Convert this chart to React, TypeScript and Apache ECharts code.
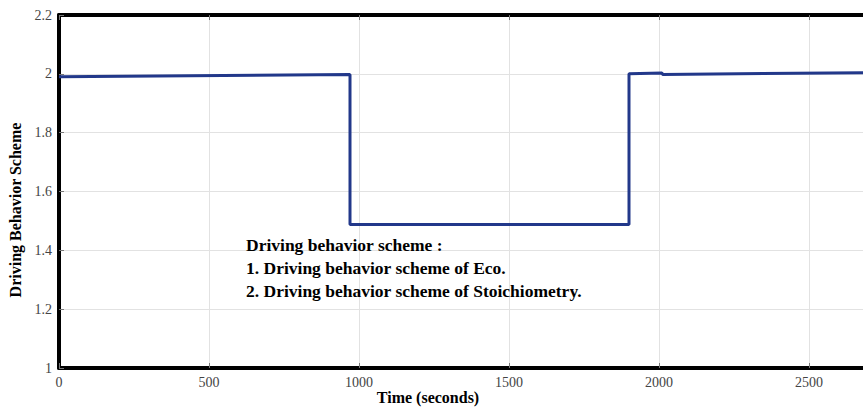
import React, { useEffect, useRef } from "react";
import * as echarts from "echarts";

const timeValues = [0, 970, 970, 1900, 1900, 2010, 2012, 2700];
const schemeValues = [1.99, 1.998, 1.488, 1.488, 2.0, 2.003, 1.998, 2.004];
const yTicks = [1, 1.2, 1.4, 1.6, 1.8, 2, 2.2];
const xAxisTitle = "Time (seconds)";
const yAxisTitle = "Driving Behavior Scheme";
const noteLines = [
  "Driving behavior scheme :",
  "1. Driving behavior scheme of Eco.",
  "2. Driving behavior scheme of Stoichiometry.",
];

export default function App() {
  const ref = useRef<HTMLDivElement>(null);
  useEffect(() => {
    if (!ref.current) return;
    const chart = echarts.init(ref.current, null, { renderer: "svg" });
    const serif = "Liberation Serif";
    const data = timeValues.map((t, i) => [t, schemeValues[i]]);
    const tickStyle = { show: true, inside: true, length: 5, lineStyle: { color: "#777", width: 1 } };
    const border = { show: true, onZero: false, lineStyle: { color: "#000", width: 4 } };
    chart.setOption({
      animation: false,
      backgroundColor: "#fff",
      grid: {
        left: 59,
        top: 15,
        bottom: 41,
        right: -6,
        show: false,
        containLabel: false,
        outerBoundsMode: "none",
      },
      xAxis: [
        {
          type: "value",
          min: 0,
          max: 2700,
          interval: 500,
          axisLine: border,
          axisTick: tickStyle,
          axisLabel: {
            fontFamily: serif,
            fontSize: 14,
            color: "#444",
            margin: 7,
            formatter: (v: number) => (v > 2600 ? "" : String(v)),
          },
          splitLine: { show: true, lineStyle: { color: "#e2e2e2", width: 1 } },
        },
        {
          type: "value",
          position: "top",
          min: 0,
          max: 2700,
          interval: 500,
          axisLine: border,
          axisTick: tickStyle,
          axisLabel: { show: false },
          splitLine: { show: false },
        },
      ],
      yAxis: {
        type: "value",
        min: 1,
        max: 2.2,
        interval: 0.2,
        axisLine: border,
        axisTick: tickStyle,
        axisLabel: {
          fontFamily: serif,
          fontSize: 14,
          color: "#444",
          margin: 7,
          formatter: (v: number) => {
            const m = yTicks.find((t) => Math.abs(t - v) < 1e-6);
            return m === undefined ? "" : String(Math.round(m * 10) / 10);
          },
        },
        splitLine: { show: true, lineStyle: { color: "#e2e2e2", width: 1 } },
      },
      series: [
        {
          type: "line",
          data,
          showSymbol: false,
          symbol: "none",
          lineStyle: { color: "#22388a", width: 3 },
          z: 5,
        },
      ],
      graphic: [
        {
          type: "text",
          x: 428,
          y: 397,
          z: 10,
          style: {
            text: xAxisTitle,
            fill: "#000",
            fontFamily: serif,
            fontWeight: "bold",
            fontSize: 16,
            align: "center",
            verticalAlign: "middle",
          },
        },
        {
          type: "text",
          x: 15,
          y: 210,
          rotation: Math.PI / 2,
          z: 10,
          style: {
            text: yAxisTitle,
            fill: "#000",
            fontFamily: serif,
            fontWeight: "bold",
            fontSize: 16,
            align: "center",
            verticalAlign: "middle",
          },
        },
        ...noteLines.map((t, i) => ({
          type: "text",
          left: 246,
          top: 236 + i * 23,
          z: 10,
          style: {
            text: t,
            fill: "#000",
            fontFamily: serif,
            fontWeight: "bold",
            fontSize: 17.5,
          },
        })),
      ],
    });
    return () => chart.dispose();
  }, []);
  return (
    <div
      ref={ref}
      style={{ position: "fixed", left: 0, top: 0, width: 863, height: 409 }}
    />
  );
}
